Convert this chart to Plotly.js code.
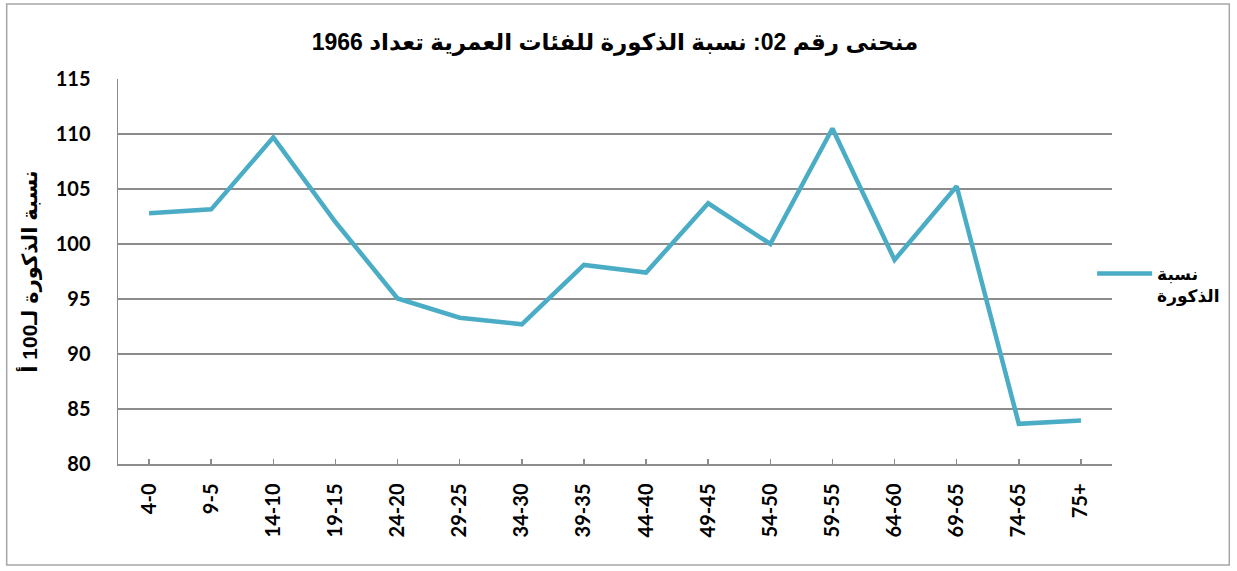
<!DOCTYPE html>
<html>
<head>
<meta charset="utf-8">
<script src="https://cdn.plot.ly/plotly-3.0.1.min.js"></script>
<style>
  html, body { margin: 0; padding: 0; background: #ffffff; }
  #chart { width: 1237px; height: 571px; }
</style>
</head>
<body>
<div id="chart"></div>
<script>
// ---- data ----
const ageGroups = ["4-0", "9-5", "14-10", "19-15", "24-20", "29-25", "34-30", "39-35",
                   "44-40", "49-45", "54-50", "59-55", "64-60", "69-65", "74-65", "75+"];
const sexRatio = [102.8, 103.15, 109.7, 102.0, 95.05, 93.3, 92.7, 98.1,
                  97.4, 103.7, 100.0, 110.5, 98.55, 105.25, 83.65, 83.95];
const seriesName = "نسبة<br>الذكورة";
const chartTitle = "منحنى رقم 02: نسبة الذكورة للفئات العمرية تعداد 1966";
const yTitle = "نسبة الذكورة لـ100 أ";
const yTicks = [80, 85, 90, 95, 100, 105, 110, 115];

// ---- layout constants ----
const W = 1237, H = 571;
const M = { l: 118, r: 119, t: 79, b: 107 };
const pw = W - M.l - M.r, ph = H - M.t - M.b;
const frame = { left: 6, right: 1236, top: 4, bottom: 565 };

const arabicFont = "Liberation Sans, Arial, DejaVu Sans, sans-serif";
const tickFont = "Lato, Open Sans, sans-serif";
const gridCol = "#8c8c8c";

const trace = {
  type: "scatter",
  mode: "lines",
  x: ageGroups,
  y: sexRatio,
  name: seriesName,
  line: { color: "#4BACC6", width: 4.5 },
  hoverinfo: "x+y"
};

const layout = {
  width: W, height: H,
  margin: M,
  paper_bgcolor: "#ffffff",
  plot_bgcolor: "#ffffff",
  showlegend: true,
  title: {
    text: chartTitle,
    font: { family: arabicFont, size: 23, color: "#000000", weight: "bold" },
    x: 0.5, xref: "paper", xanchor: "center",
    y: 1 - 42 / H, yanchor: "middle"
  },
  xaxis: {
    type: "category",
    range: [-0.5, ageGroups.length - 0.5],
    showgrid: false,
    showline: true, linecolor: gridCol, linewidth: 1.5,
    ticks: "inside", ticklen: 5, tickcolor: gridCol, tickwidth: 1.5,
    tickangle: -90,
    ticklabelstandoff: 10,
    tickfont: { family: tickFont, size: 20, color: "#000000", weight: "bold" },
    zeroline: false,
    fixedrange: true
  },
  yaxis: {
    range: [80, 115],
    tickvals: yTicks,
    ticktext: yTicks.map(String),
    showgrid: true, gridcolor: gridCol, gridwidth: 1.5,
    showline: true, linecolor: gridCol, linewidth: 1.5,
    ticks: "",
    ticklabelstandoff: 22,
    tickfont: { family: tickFont, size: 20, color: "#000000", weight: "bold" },
    zeroline: false,
    title: {
      text: yTitle,
      font: { family: arabicFont, size: 21, color: "#000000", weight: "bold" },
      standoff: 12
    },
    fixedrange: true
  },
  legend: {
    x: (1098 - M.l) / pw, xanchor: "left",
    y: (H - M.b - 256) / ph, yanchor: "top",
    valign: "top",
    bgcolor: "rgba(0,0,0,0)",
    itemwidth: 55,
    font: { family: arabicFont, size: 17, color: "#000000", weight: "bold" }
  },
  shapes: [{
    type: "rect", xref: "paper", yref: "paper",
    x0: (frame.left - M.l) / pw, x1: (frame.right - M.l) / pw,
    y0: (H - M.b - frame.bottom) / ph, y1: (H - M.b - frame.top) / ph,
    line: { color: "#a6a6a6", width: 1.5 },
    layer: "below"
  }]
};

Plotly.newPlot("chart", [trace], layout, { displayModeBar: false, staticPlot: true });
</script>
</body>
</html>
